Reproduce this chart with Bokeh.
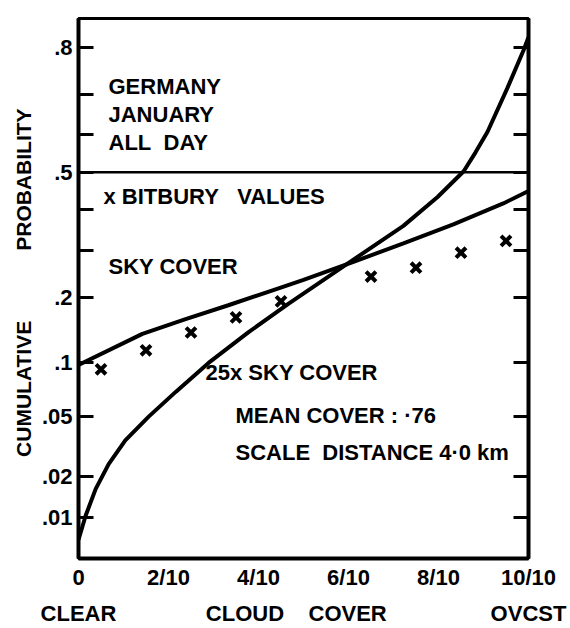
from statistics import NormalDist
from bokeh.plotting import figure
from bokeh.models import (Range1d, LinearAxis, FixedTicker, Span, Label)
from bokeh.embed import file_html
from bokeh.resources import INLINE

# ---------------- data ----------------
# x positions are fractions of sky cover (0 = clear, 1 = overcast)
bitbury_x = [0.05, 0.15, 0.25, 0.35, 0.45, 0.65, 0.75, 0.85, 0.95]
bitbury_p = [0.092, 0.115, 0.140, 0.164, 0.192, 0.241, 0.260, 0.294, 0.322]

sky_x = [0.0, 0.142, 0.238, 0.333, 0.438, 0.5, 0.611, 0.722, 0.833, 0.944, 1.0]
sky_p = [0.097, 0.138, 0.161, 0.185, 0.215, 0.234, 0.273, 0.316, 0.363, 0.417, 0.450]

sky25_x = [0.0, 0.016, 0.038, 0.067, 0.104, 0.156, 0.216, 0.289, 0.378, 0.467,
           0.611, 0.722, 0.798, 0.856, 0.882, 0.909, 0.953, 0.989, 1.0]
sky25_p = [0.0066, 0.0103, 0.0163, 0.0245, 0.0353, 0.0497, 0.0693, 0.0993, 0.1405,
           0.188, 0.278, 0.359, 0.434, 0.503, 0.553, 0.608, 0.715, 0.795, 0.819]

y_tick_p = [0.01, 0.02, 0.05, 0.1, 0.2, 0.3, 0.4, 0.5, 0.6, 0.7, 0.8]
y_tick_labels = [".01", ".02", ".05", ".1", ".2", "", "", ".5", "", "", ".8"]

x_tick_vals = [0.0, 0.2, 0.4, 0.6, 0.8, 1.0]
x_tick_labels = ["0", "2/10", "4/10", "6/10", "8/10", "10/10"]

x_word_pos = [0.0, 0.484, 1.0]
x_words = ["CLEAR", "CLOUD\u00a0\u00a0\u00a0\u00a0COVER", "OVCST"]

FONT = "Liberation Sans"
NB = "\u00a0"

nd = NormalDist()
def probit(v):
    return nd.inv_cdf(v)

p = figure(width=570, height=628, x_range=Range1d(0, 1), y_range=Range1d(-2.605, 1.038),
           output_backend="svg", toolbar_location=None,
           x_axis_location=None, y_axis_location=None,
           min_border_left=78, min_border_right=42, min_border_top=18, min_border_bottom=66)
for g in p.grid:
    g.visible = False
p.outline_line_color = "black"
p.outline_line_width = 3
p.background_fill_color = "white"
p.border_fill_color = "white"

y_ticks = [probit(v) for v in y_tick_p]

left = LinearAxis(ticker=FixedTicker(ticks=y_ticks),
                  major_label_overrides={t: l for t, l in zip(y_ticks, y_tick_labels)},
                  axis_line_width=4, axis_line_color="black",
                  major_tick_in=15, major_tick_out=0, major_tick_line_width=3,
                  minor_tick_line_color=None,
                  major_label_standoff=6,
                  major_label_text_font=FONT, major_label_text_font_style="bold",
                  major_label_text_font_size="22px", major_label_text_color="black",
                  axis_label=NB * 2 + "CUMULATIVE" + NB * 12 + "PROBABILITY",
                  axis_label_text_font=FONT, axis_label_text_font_style="bold",
                  axis_label_text_font_size="21px", axis_label_text_color="black",
                  axis_label_standoff=4)
p.add_layout(left, "left")

right = LinearAxis(ticker=FixedTicker(ticks=y_ticks),
                   major_label_overrides={t: "" for t in y_ticks},
                   axis_line_width=4, axis_line_color="black",
                   major_tick_in=15, major_tick_out=0, major_tick_line_width=3,
                   minor_tick_line_color=None)
p.add_layout(right, "right")

bottom = LinearAxis(ticker=FixedTicker(ticks=x_tick_vals),
                    major_label_overrides={t: l for t, l in zip(x_tick_vals, x_tick_labels)},
                    axis_line_width=4, axis_line_color="black",
                    major_tick_in=0, major_tick_out=0, minor_tick_line_color=None,
                    major_label_standoff=6, axis_label_standoff=0,
                    major_label_text_font=FONT, major_label_text_font_style="bold",
                    major_label_text_font_size="22px", major_label_text_color="black")
p.add_layout(bottom, "below")

bottom2 = LinearAxis(ticker=FixedTicker(ticks=x_word_pos),
                     major_label_overrides={t: l for t, l in zip(x_word_pos, x_words)},
                     axis_line_color=None, major_tick_line_color=None,
                     minor_tick_line_color=None,
                     major_tick_in=0, major_tick_out=0,
                     major_label_standoff=8, axis_label_standoff=0,
                     major_label_text_font=FONT, major_label_text_font_style="bold",
                     major_label_text_font_size="22px", major_label_text_color="black")
p.add_layout(bottom2, "below")

p.add_layout(Span(location=probit(0.5), dimension="width", line_color="black", line_width=2.5))

p.line(sky_x, [probit(v) for v in sky_p], line_color="black", line_width=4)
p.line(sky25_x, [probit(v) for v in sky25_p], line_color="black", line_width=4)
p.scatter(bitbury_x, [probit(v) for v in bitbury_p], marker="x", size=14,
          line_color="black", line_width=4)

def px2x(px):
    return (px - 78) / 450.0
def py2y(py):
    return (173 - py) / 149.3

texts = [
    ("GERMANY", 108, 87),
    ("JANUARY", 108, 115),
    ("ALL" + NB * 2 + "DAY", 108, 143),
    ("x BITBURY" + NB * 3 + "VALUES", 103, 197),
    ("SKY COVER", 108, 268),
    ("25x SKY COVER", 205, 375),
    ("MEAN COVER : \u00b776", 235, 418),
    ("SCALE" + NB * 2 + "DISTANCE 4\u00b70 km", 235, 455),
]
for t, xx, yy in texts:
    p.add_layout(Label(x=px2x(xx), y=py2y(yy), text=t, text_font=FONT,
                       text_font_style="bold", text_font_size="22px",
                       text_color="black", text_baseline="middle", text_align="left"))

open("out.html", "w").write(file_html(p, INLINE))
